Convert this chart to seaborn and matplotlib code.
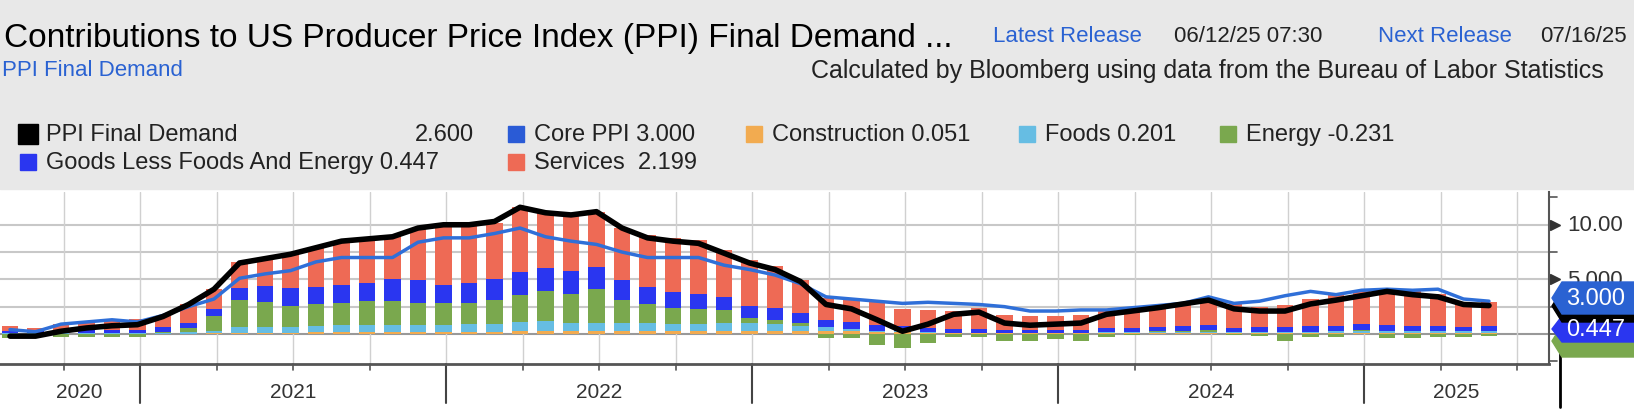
import numpy as np
import pandas as pd
import matplotlib
matplotlib.use("Agg")
import matplotlib.pyplot as plt
from matplotlib.patches import Polygon, Rectangle
from matplotlib import font_manager
import seaborn as sns

sns.set_style("white")

W, H = 1634, 410
FONT = "Liberation Sans Narrow"
if FONT not in {f.name for f in font_manager.fontManager.ttflist}:
    FONT = "Liberation Sans"

# monthly, Jul 2020 .. May 2025
months = pd.period_range("2020-07", "2025-05", freq="M").strftime("%Y-%m").tolist()

ppi_final_demand = [
    -0.2, -0.2, 0.25, 0.55, 0.75, 0.85, 1.6, 2.7, 4.1, 6.5, 6.9, 7.3, 7.9, 8.5, 8.7, 8.9,
    9.7, 10.0, 10.0, 10.3, 11.6, 11.1, 10.9, 11.2, 9.7, 8.8, 8.5, 8.3, 7.4, 6.5, 5.9, 4.8,
    2.7, 2.3, 1.3, 0.25, 0.9, 1.8, 2.0, 1.0, 0.8, 0.9, 1.0, 1.8, 2.1, 2.4, 2.75, 3.1,
    2.3, 2.1, 2.1, 2.75, 3.1, 3.5, 3.9, 3.6, 3.4, 2.7, 2.6,
]
core_ppi = [
    0.4, 0.2, 0.9, 1.1, 1.3, 1.1, 1.7, 2.5, 3.2, 5.1, 5.5, 5.8, 6.6, 7.0, 7.0, 7.0,
    8.4, 8.8, 8.8, 9.2, 9.7, 8.9, 8.5, 8.2, 7.5, 7.0, 7.0, 7.0, 6.3, 5.9, 5.4, 4.6,
    3.4, 3.2, 3.0, 2.8, 2.9, 2.8, 2.7, 2.5, 2.1, 2.1, 2.2, 2.2, 2.4, 2.6, 2.8, 3.4,
    2.8, 3.0, 3.5, 3.9, 3.6, 4.0, 4.1, 4.0, 4.1, 3.2, 3.0,
]
construction = [
    0.0, 0.0, 0.0, 0.0, 0.0, 0.0, 0.0, 0.0, 0.05, 0.1, 0.1, 0.1, 0.2, 0.2, 0.2, 0.2,
    0.2, 0.2, 0.2, 0.2, 0.3, 0.3, 0.3, 0.3, 0.3, 0.3, 0.3, 0.3, 0.3, 0.3, 0.3, 0.3,
    0.3, 0.3, 0.2, 0.2, 0.1, 0.05, 0.05, 0.05, 0.05, 0.05, 0.05, 0.05, 0.05, 0.05, 0.05, 0.05,
    0.05, 0.05, 0.05, 0.05, 0.05, 0.05, 0.05, 0.05, 0.05, 0.05, 0.051,
]
foods = [
    0.05, 0.05, 0.05, 0.05, 0.05, 0.05, 0.1, 0.15, 0.25, 0.55, 0.55, 0.5, 0.5, 0.6, 0.6, 0.6,
    0.6, 0.65, 0.7, 0.7, 0.8, 0.9, 0.7, 0.7, 0.7, 0.7, 0.6, 0.6, 0.7, 0.7, 0.6, 0.4,
    0.3, 0.2, 0.1, 0.05, 0.05, 0.05, 0.05, 0.05, 0.05, 0.05, 0.05, 0.1, 0.1, 0.1, 0.15, 0.15,
    0.1, 0.1, 0.1, 0.15, 0.2, 0.2, 0.2, 0.2, 0.2, 0.2, 0.201,
]
energy = [
    -0.4, -0.2, -0.3, -0.3, -0.3, -0.3, 0.1, 0.4, 1.3, 2.5, 2.3, 2.0, 2.0, 2.0, 2.2, 2.2,
    2.0, 2.0, 1.9, 2.2, 2.5, 2.7, 2.7, 3.1, 2.1, 1.7, 1.5, 1.4, 1.2, 0.5, 0.4, 0.3,
    -0.4, -0.4, -1.0, -1.3, -0.8, -0.3, -0.3, -0.6, -0.6, -0.5, -0.6, -0.3, -0.1, 0.1, 0.1, 0.2,
    -0.1, -0.2, -0.6, -0.3, -0.3, 0.1, -0.4, -0.4, -0.3, -0.3, -0.231,
]
goods_less_food_energy = [
    0.2, 0.2, 0.25, 0.3, 0.3, 0.3, 0.4, 0.5, 0.7, 1.1, 1.4, 1.6, 1.6, 1.7, 1.7, 2.0,
    2.1, 1.6, 1.9, 1.9, 2.1, 2.1, 2.1, 2.0, 1.8, 1.6, 1.4, 1.4, 1.2, 1.1, 1.1, 0.9,
    0.7, 0.6, 0.5, 0.5, 0.4, 0.4, 0.4, 0.3, 0.3, 0.3, 0.3, 0.4, 0.4, 0.4, 0.4, 0.4,
    0.4, 0.5, 0.5, 0.5, 0.5, 0.6, 0.6, 0.5, 0.5, 0.4, 0.447,
]
services = [
    0.5, 0.3, 0.6, 0.8, 0.9, 1.0, 1.0, 1.7, 1.8, 2.3, 2.6, 3.1, 3.6, 4.0, 4.1, 4.0,
    4.8, 5.5, 5.2, 5.2, 5.9, 5.1, 5.1, 5.1, 4.8, 4.8, 5.0, 4.9, 4.3, 4.2, 3.8, 3.0,
    2.0, 2.0, 2.1, 1.5, 1.6, 1.6, 1.9, 1.3, 1.2, 1.2, 1.3, 1.6, 1.6, 1.8, 2.1, 2.3,
    2.2, 1.8, 2.0, 2.5, 2.8, 3.1, 3.1, 3.2, 2.9, 2.3, 2.199,
]
years = ["2020", "2021", "2022", "2023", "2024", "2025"]

df = pd.DataFrame({
    "month": months, "total": ppi_final_demand, "core": core_ppi,
    "construction": construction, "foods": foods, "energy": energy,
    "goods": goods_less_food_energy, "services": services,
})
df["x"] = np.arange(len(df))

colors = {
    "construction": "#f2ab50", "foods": "#66bde3", "energy": "#7aa84e",
    "goods": "#2a36f0", "services": "#ee6a55",
}

fig = plt.figure(figsize=(W / 100, H / 100), dpi=100)
fig.patches.append(Rectangle((0, 1 - 190 / H), 1, 190 / H, transform=fig.transFigure,
                             color="#e8e8e8", zorder=0))

ax = fig.add_axes([0, 45 / H, 1549 / W, (365 - 193) / H])
ax.set_facecolor("white")

pos_base = np.zeros(len(df))
neg_base = np.zeros(len(df))
for key in ["construction", "foods", "energy", "goods", "services"]:
    v = df[key].to_numpy()
    base = np.where(v >= 0, pos_base, neg_base)
    ax.bar(df["x"], v, bottom=base, width=0.66, color=colors[key], zorder=2, linewidth=0)
    pos_base += np.where(v >= 0, v, 0)
    neg_base += np.where(v < 0, v, 0)

sns.lineplot(data=df, x="x", y="core", ax=ax, color="#2f6fd8", lw=2.5, zorder=3)
sns.lineplot(data=df, x="x", y="total", ax=ax, color="black", lw=4, zorder=4)

x0 = -10 / 25.5
x1 = x0 + 1549 / 25.5
ax.set_xlim(x0, x1)
ax.set_ylim(-2.75, 13.0)
for y in [0, 2.5, 5, 7.5, 10]:
    ax.axhline(y, color="#c8c8c8" if y else "#999999", lw=1.5, zorder=1)
for gx in np.arange(2.1, 60, 3):
    ax.axvline(gx, color="#d0d0d0", lw=1, zorder=1)
ax.set_xlabel("")
ax.set_ylabel("")
ax.set_xticks([])
ax.set_yticks([])
for s in ["top", "left"]:
    ax.spines[s].set_visible(False)
ax.spines["bottom"].set_color("#555555")
ax.spines["bottom"].set_linewidth(2)
ax.spines["right"].set_color("#555555")
ax.spines["right"].set_linewidth(1.5)

# bottom ticks
for gx in np.arange(2.1, 60, 3):
    ax.plot([gx, gx], [-2.75, -3.3], color="#555555", lw=1.2, clip_on=False)
for bx in [5.1, 17.1, 29.1, 41.1, 53.1]:
    ax.plot([bx, bx], [-2.75, -6.3], color="#444444", lw=1.5, clip_on=False)
for yr, cx in zip(years, [2.7, 11.1, 23.1, 35.1, 47.1, 56.7]):
    ax.text(cx, -5.3, yr, ha="center", va="center", fontsize=15, color="#333333", family=FONT)

# right axis ticks and labels
for yv in [12.5, 7.5, 2.5, 0, -2.5]:
    ax.plot([x1, x1 + 0.3], [yv, yv], color="#555555", lw=1.2, clip_on=False)
for yv, lab in [(10, "10.00"), (5, "5.000")]:
    ax.plot([x1 + 0.25], [yv], marker=">", color="#333333", ms=7, clip_on=False)
    ax.text(x1 + 0.7, yv, lab, va="center", fontsize=16, color="#333333", family=FONT)


def tag(yc, color, text, tcolor="white", h=32):
    xl, xr = 1552, 1634
    pts = [(xl, yc), (xl + 10, yc - h / 2), (xr, yc - h / 2), (xr, yc + h / 2), (xl + 10, yc + h / 2)]
    fig.patches.append(Polygon([(px / W, 1 - py / H) for px, py in pts], closed=True,
                               transform=fig.transFigure, color=color, zorder=5))
    if text:
        fig.text(1566 / W, 1 - yc / H, text, color=tcolor, fontsize=17, va="center",
                 family=FONT, zorder=6)


tag(342, "#7aa84e", "")
tag(330, "#2a36f0", "0.447", h=26)
tag(307, "black", "")
tag(299, "#2a62d2", "3.000")
fig.add_artist(plt.Line2D([1560 / W, 1560 / W], [1 - 352 / H, 1 - 408 / H], color="black", lw=2))


def ftext(x, y, s, **kw):
    kw.setdefault("family", FONT)
    kw.setdefault("va", "center")
    fig.text(x / W, 1 - y / H, s, **kw)


ftext(4, 38, "Contributions to US Producer Price Index (PPI) Final Demand ...", fontsize=24, color="black")
ftext(993, 36, "Latest Release", fontsize=16, color="#2a62d2")
ftext(1174, 36, "06/12/25 07:30", fontsize=16, color="#222222")
ftext(1378, 36, "Next Release", fontsize=16, color="#2a62d2")
ftext(1540, 36, "07/16/25", fontsize=16, color="#222222")
ftext(2, 71, "PPI Final Demand", fontsize=16, color="#2a62d2")
ftext(811, 71, "Calculated by Bloomberg using data from the Bureau of Labor Statistics", fontsize=18,
      color="#222222")

legend_items = [
    (18, 135, "black", "PPI Final Demand"),
    (506, 135, "#2a5bd6", "Core PPI 3.000"),
    (744, 135, "#f2ab50", "Construction 0.051"),
    (1017, 135, "#66bde3", "Foods 0.201"),
    (1218, 135, "#7aa84e", "Energy -0.231"),
    (18, 163, "#2a36f0", "Goods Less Foods And Energy 0.447"),
    (506, 163, "#ee6a55", "Services  2.199"),
]
for lx, ly, col, lab in legend_items:
    sz = 20 if col == "black" else 16
    fig.patches.append(Rectangle(((lx + (20 - sz) / 2) / W, 1 - (ly + sz / 2) / H), sz / W, sz / H,
                                 transform=fig.transFigure, color=col, zorder=2))
    ftext(lx + 28, ly, lab, fontsize=17, color="#222222")
ftext(474, 135, "2.600", fontsize=17, color="#222222", ha="right")

fig.savefig("out.png", dpi=100)
